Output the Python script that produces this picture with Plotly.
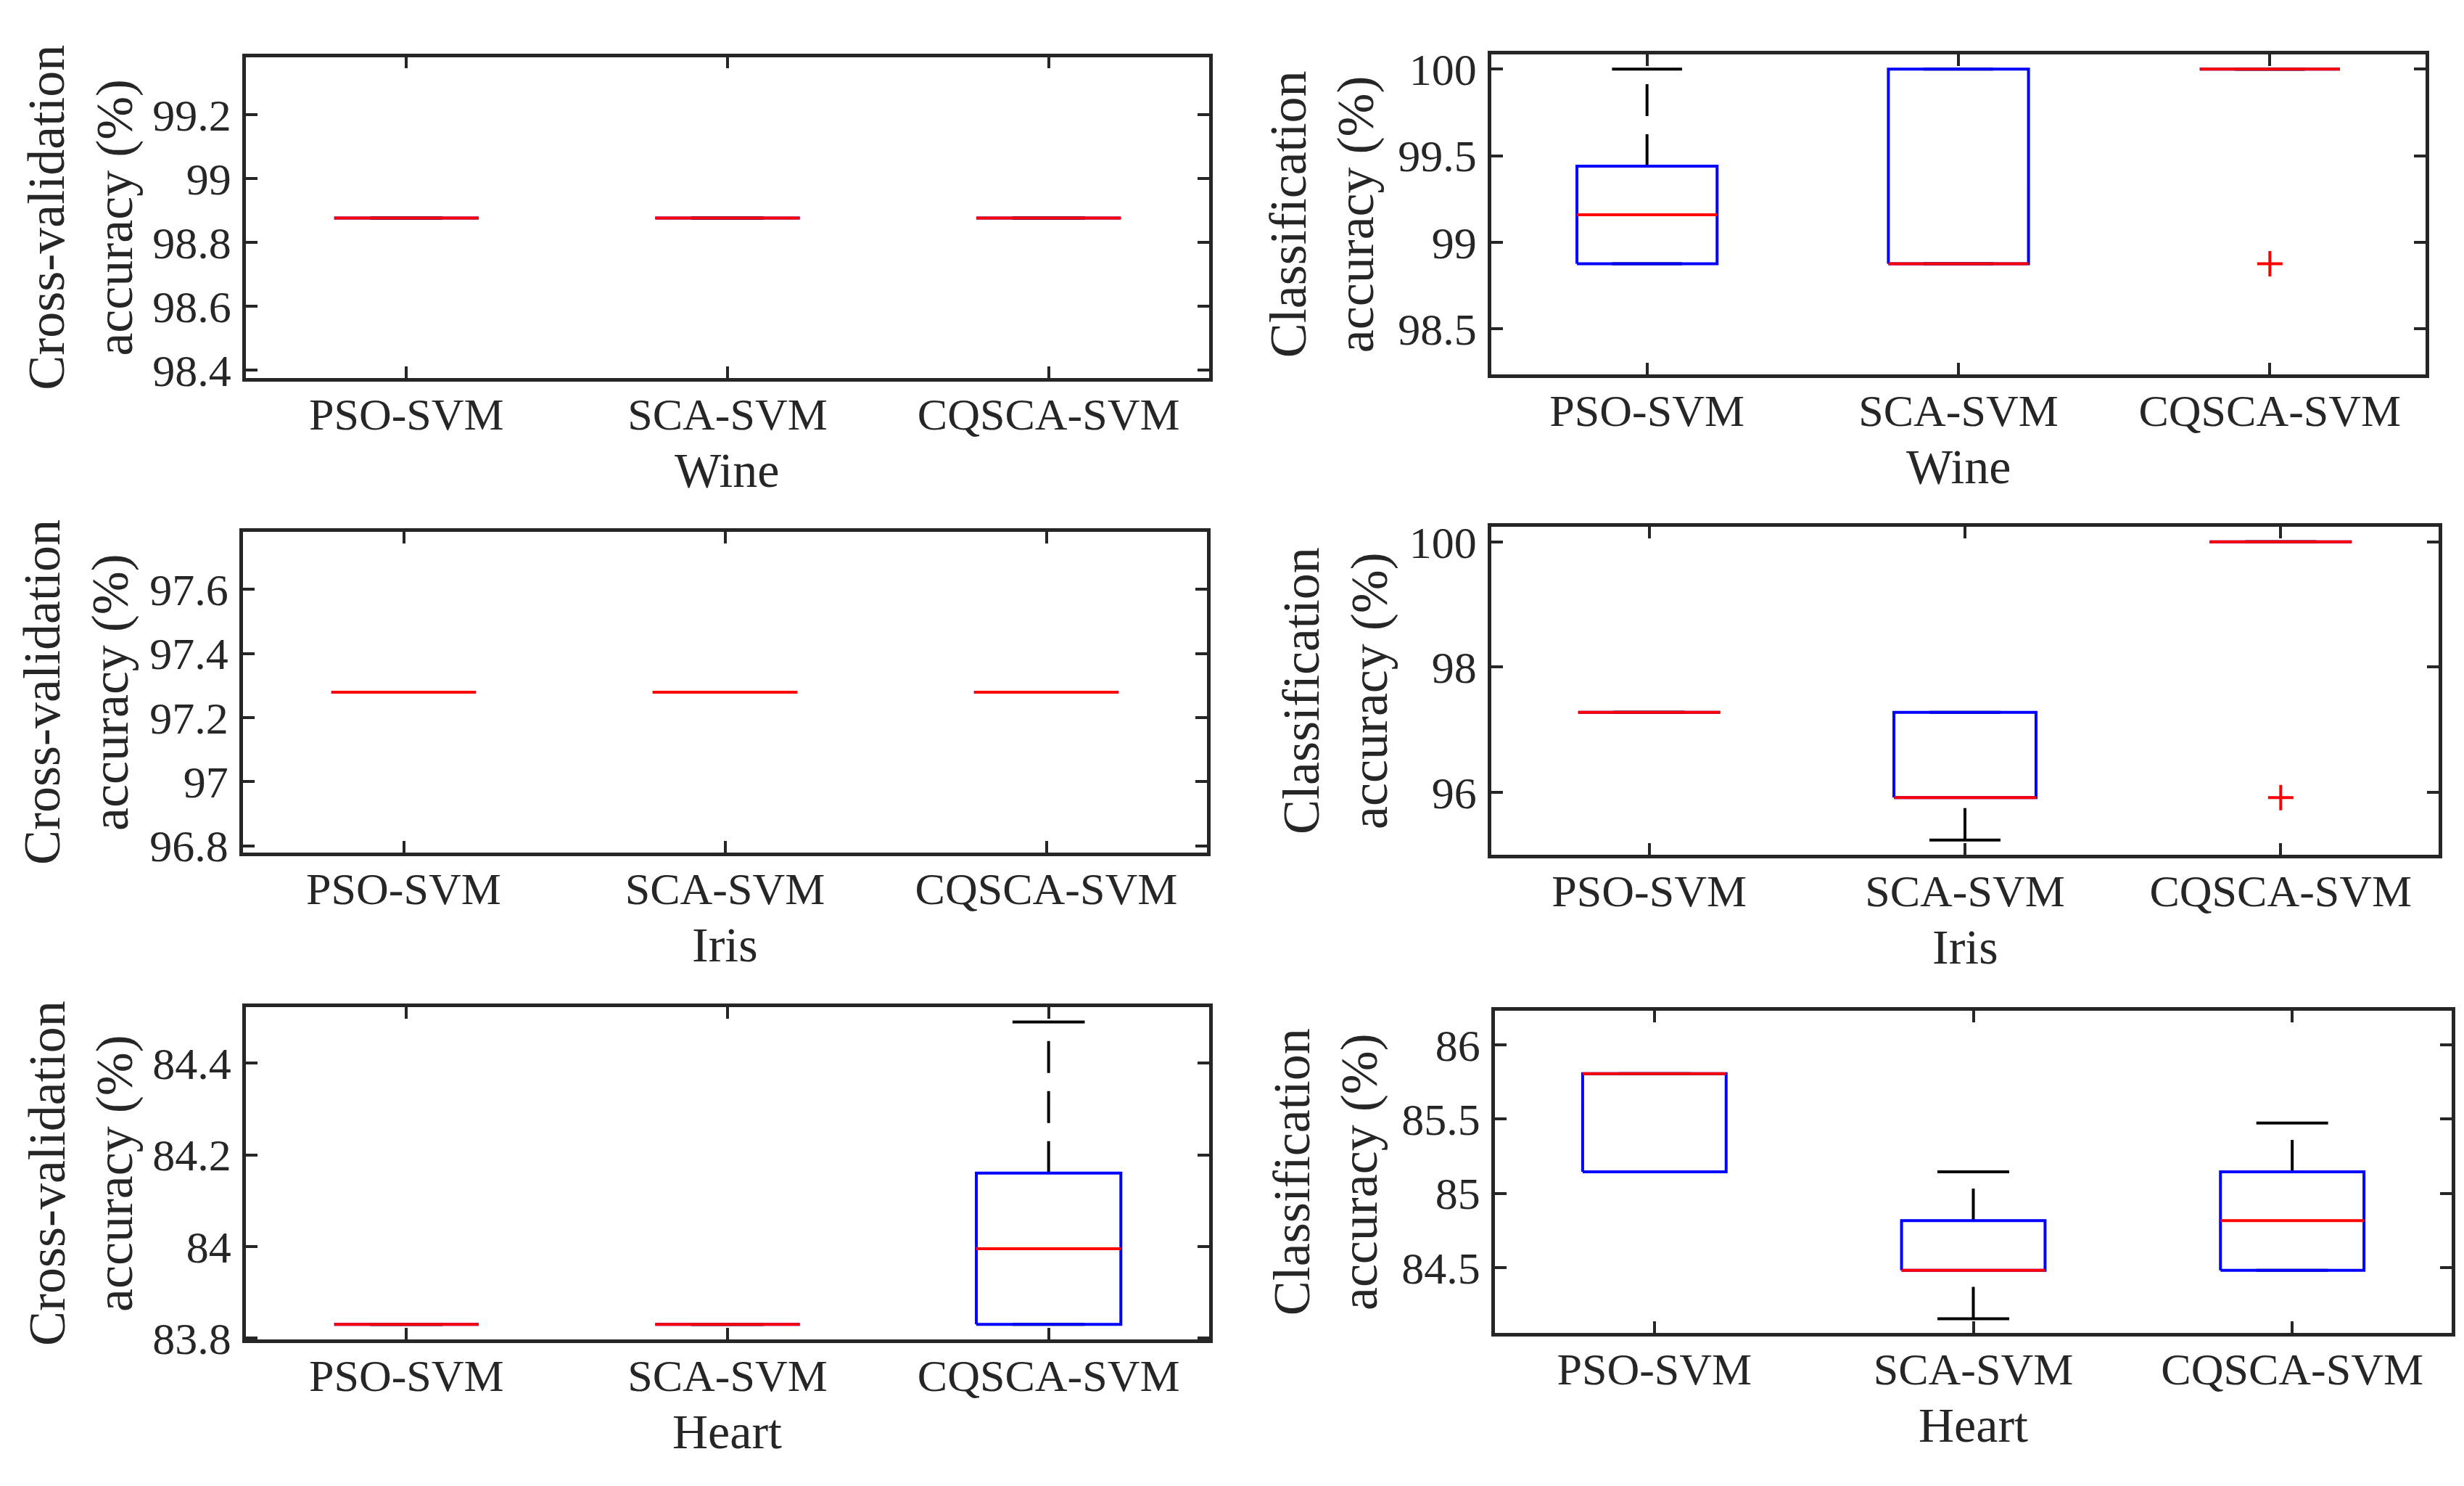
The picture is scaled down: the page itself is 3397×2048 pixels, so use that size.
import plotly.graph_objects as go

W, H = 3397, 2048

methods = ["PSO-SVM", "SCA-SVM", "CQSCA-SVM"]

# five-number summaries (lower adjacent, q1, median, q3, upper adjacent)
wine_cv_lo = [98.876, 98.876, 98.876]
wine_cv_q1 = [98.876, 98.876, 98.876]
wine_cv_med = [98.876, 98.876, 98.876]
wine_cv_q3 = [98.876, 98.876, 98.876]
wine_cv_hi = [98.876, 98.876, 98.876]
wine_cv_out = [[], [], []]

wine_ca_lo = [98.876, 98.876, 100.0]
wine_ca_q1 = [98.876, 98.876, 100.0]
wine_ca_med = [99.159, 98.876, 100.0]
wine_ca_q3 = [99.44, 100.0, 100.0]
wine_ca_hi = [100.0, 100.0, 100.0]
wine_ca_out = [[], [], [98.876]]

iris_cv_lo = [97.279, 97.279, 97.279]
iris_cv_q1 = [97.279, 97.279, 97.279]
iris_cv_med = [97.279, 97.279, 97.279]
iris_cv_q3 = [97.279, 97.279, 97.279]
iris_cv_hi = [97.279, 97.279, 97.279]
iris_cv_out = [[], [], []]

iris_ca_lo = [97.28, 95.24, 100.0]
iris_ca_q1 = [97.28, 95.917, 100.0]
iris_ca_med = [97.28, 95.917, 100.0]
iris_ca_q3 = [97.28, 97.28, 100.0]
iris_ca_hi = [97.28, 97.28, 100.0]
iris_ca_out = [[], [], [95.917]]

heart_cv_lo = [83.83, 83.83, 83.83]
heart_cv_q1 = [83.83, 83.83, 83.83]
heart_cv_med = [83.83, 83.83, 83.995]
heart_cv_q3 = [83.83, 83.83, 84.16]
heart_cv_hi = [83.83, 83.83, 84.49]
heart_cv_out = [[], [], []]

heart_ca_lo = [85.145, 84.155, 84.482]
heart_ca_q1 = [85.145, 84.482, 84.482]
heart_ca_med = [85.806, 84.482, 84.817]
heart_ca_q3 = [85.806, 84.817, 85.145]
heart_ca_hi = [85.806, 85.145, 85.474]
heart_ca_out = [[], [], []]

# y limits and tick steps of each panel
y_ranges = [[98.376, 99.38], [98.238, 100.086],
            [96.779, 97.779], [95.005, 100.24],
            [83.797, 84.522], [84.059, 86.23]]
y_dticks = [0.2, 0.5, 0.2, 2, 0.2, 0.5]

# axes boxes in pixels: left, right, top, bottom
boxes_px = [(331, 1659, 60, 512), (2048, 3336, 56, 507),
            (327, 1656, 729, 1181), (2048, 3354, 722, 1184),
            (331, 1659, 1399, 1867), (2053, 3372, 1404, 1858)]
ytitle_x_px = [103, 1815, 97, 1833, 104, 1820]

panels = [
    ("Wine", "Cross-validation<br>accuracy (%)",
     wine_cv_lo, wine_cv_q1, wine_cv_med, wine_cv_q3, wine_cv_hi, wine_cv_out),
    ("Wine", "Classification<br>accuracy (%)",
     wine_ca_lo, wine_ca_q1, wine_ca_med, wine_ca_q3, wine_ca_hi, wine_ca_out),
    ("Iris", "Cross-validation<br>accuracy (%)",
     iris_cv_lo, iris_cv_q1, iris_cv_med, iris_cv_q3, iris_cv_hi, iris_cv_out),
    ("Iris", "Classification<br>accuracy (%)",
     iris_ca_lo, iris_ca_q1, iris_ca_med, iris_ca_q3, iris_ca_hi, iris_ca_out),
    ("Heart", "Cross-validation<br>accuracy (%)",
     heart_cv_lo, heart_cv_q1, heart_cv_med, heart_cv_q3, heart_cv_hi, heart_cv_out),
    ("Heart", "Classification<br>accuracy (%)",
     heart_ca_lo, heart_ca_q1, heart_ca_med, heart_ca_q3, heart_ca_hi, heart_ca_out),
]

BOX_W = 0.45
CAP_W = 0.225
LW = 4
AXC = "#262626"
FONT = "Liberation Serif"

fig = go.Figure()
layout = {}
annotations = []

for k, (dname, ytitle, lo, q1, med, q3, hi, outl) in enumerate(panels):
    xa = "x" if k == 0 else f"x{k + 1}"
    ya = "y" if k == 0 else f"y{k + 1}"

    wx, wy, cx, cy = [], [], [], []
    bx, by, mx, my, ox, oy = [], [], [], [], [], []
    for i in range(len(methods)):
        p = i + 1
        # whiskers drawn from the lower end upward (dash phase as in MATLAB)
        wx += [p, p, None, p, p, None]
        wy += [lo[i], q1[i], None, q3[i], hi[i], None]
        cx += [p - CAP_W / 2, p + CAP_W / 2, None, p - CAP_W / 2, p + CAP_W / 2, None]
        cy += [lo[i], lo[i], None, hi[i], hi[i], None]
        bx += [p - BOX_W / 2, p + BOX_W / 2, p + BOX_W / 2, p - BOX_W / 2, p - BOX_W / 2, None]
        by += [q1[i], q1[i], q3[i], q3[i], q1[i], None]
        mx += [p - BOX_W / 2, p + BOX_W / 2, None]
        my += [med[i], med[i], None]
        for v in outl[i]:
            ox.append(p)
            oy.append(v)

    common = dict(xaxis=xa, yaxis=ya, showlegend=False, hoverinfo="skip")
    fig.add_trace(go.Scatter(x=wx, y=wy, mode="lines",
                             line=dict(color="black", width=LW, dash="44px,25px"), **common))
    fig.add_trace(go.Scatter(x=cx, y=cy, mode="lines",
                             line=dict(color="black", width=LW), **common))
    fig.add_trace(go.Scatter(x=bx, y=by, mode="lines",
                             line=dict(color="#0000FF", width=LW), **common))
    fig.add_trace(go.Scatter(x=mx, y=my, mode="lines",
                             line=dict(color="#FF0000", width=LW), **common))
    if ox:
        fig.add_trace(go.Scatter(x=ox, y=oy, mode="markers",
                                 marker=dict(symbol="cross-thin", size=25, color="#FF0000",
                                             line=dict(color="#FF0000", width=LW)), **common))

    left, right, top, bottom = boxes_px[k]
    xdom = [left / W, right / W]
    ydom = [1 - bottom / H, 1 - top / H]
    axkey = "xaxis" if k == 0 else f"xaxis{k + 1}"
    aykey = "yaxis" if k == 0 else f"yaxis{k + 1}"
    layout[axkey] = dict(
        domain=xdom, anchor=ya, range=[0.5, 3.5],
        tickmode="array", tickvals=[1, 2, 3], ticktext=methods,
        ticks="inside", ticklen=16, tickwidth=LW, tickcolor=AXC,
        showline=True, linewidth=4.5, linecolor=AXC, mirror="ticks",
        showgrid=False, zeroline=False, ticklabelstandoff=-8,
        tickfont=dict(family=FONT, size=62, color=AXC),
    )
    layout[aykey] = dict(
        domain=ydom, anchor=xa, range=y_ranges[k],
        tickmode="linear", dtick=y_dticks[k], tick0=0,
        ticks="inside", ticklen=16, tickwidth=LW, tickcolor=AXC,
        showline=True, linewidth=4.5, linecolor=AXC, mirror="ticks",
        showgrid=False, zeroline=False, ticklabelstandoff=3,
        tickfont=dict(family=FONT, size=62, color=AXC),
    )

    # y title (two lines, rotated) and dataset name under the x tick labels
    annotations.append(dict(
        text=ytitle, xref="paper", yref="paper",
        x=ytitle_x_px[k] / W, y=1 - (top + bottom) / 2 / H,
        xanchor="center", yanchor="middle", textangle=-90, showarrow=False,
        font=dict(family=FONT, size=72, color=AXC),
    ))
    annotations.append(dict(
        text=dname, xref="paper", yref="paper",
        x=(left + right) / 2 / W, y=1 - (bottom + 89) / H,
        xanchor="center", yanchor="top", showarrow=False,
        font=dict(family=FONT, size=68, color=AXC),
    ))

fig.update_layout(
    width=W, height=H,
    margin=dict(l=0, r=0, t=0, b=0),
    paper_bgcolor="white", plot_bgcolor="white",
    annotations=annotations,
    **layout,
)

fig.write_html("out.html")
